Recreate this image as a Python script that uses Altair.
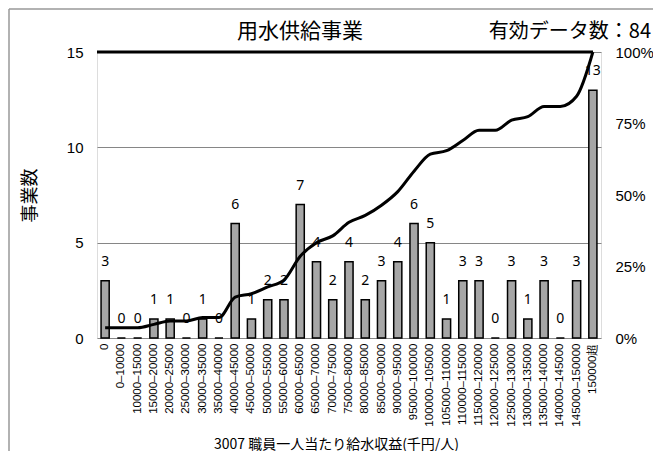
import altair as alt
import pandas as pd

categories = ["0", "0–10000", "10000–15000", "15000–20000", "20000–25000", "25000–30000",
              "30000–35000", "35000–40000", "40000–45000", "45000–50000", "50000–55000",
              "55000–60000", "60000–65000", "65000–70000", "70000–75000", "75000–80000",
              "80000–85000", "85000–90000", "90000–95000", "95000–100000", "100000–105000",
              "105000–110000", "110000–115000", "115000–120000", "120000–125000",
              "125000–130000", "130000–135000", "135000–140000", "140000–145000",
              "145000–150000", "150000超"]
counts = [3, 0, 0, 1, 1, 0, 1, 0, 6, 1, 2, 2, 7, 4, 2, 4, 2, 3, 4, 6, 5, 1, 3, 3, 0, 3, 1, 3, 0, 3, 13]
total = 84
title_main = "用水供給事業"
title_sub = "有効データ数：84"
x_title = "3007 職員一人当たり給水収益(千円/人)"
y_title = "事業数"

df = pd.DataFrame({"cat": categories, "count": counts})
df["cum"] = df["count"].cumsum() / total

W, H = 504, 286
JP = "Noto Sans CJK JP"
LAT = "Liberation Sans"

xenc = alt.X("cat:N", sort=categories, title=x_title,
             scale=alt.Scale(paddingInner=0.5, paddingOuter=0.25),
             axis=alt.Axis(labelAngle=-90, labelFont=LAT, labelFontSize=11.5, labelColor="black",
                           labelPadding=5, ticks=False, domain=False,
                           titleFont=JP, titleFontSize=14, titleFontWeight="normal", titleColor="black",
                           titleX=239, titleY=106, titleAlign="center", titleBaseline="middle"))

yaxis = alt.Axis(values=[0, 5, 10, 15], grid=True, gridColor="#868686", gridWidth=1,
                 ticks=False, domain=False, labelFont=LAT, labelFontSize=15, labelColor="black",
                 labelPadding=14, title=y_title, titleFont=JP, titleFontSize=18,
                 titleFontWeight="normal", titleColor="black", titleX=-67, titleY=143,
                 titleAlign="center", titleBaseline="middle", titleAngle=-90)
yenc = alt.Y("count:Q", scale=alt.Scale(domain=[0, 15], nice=False), axis=yaxis)

bars = alt.Chart(df).mark_bar(fill="#a6a6a6", stroke="black", strokeWidth=1.5).encode(
    x=xenc, y=yenc)
labels = alt.Chart(df).mark_text(baseline="bottom", dy=-12, font="Noto Sans", fontSize=14,
                                 color="black").encode(
    x=alt.X("cat:N", sort=categories, bandPosition=0.5), y=yenc, text="count:Q")
left = alt.layer(bars, labels)

line = alt.Chart(df).mark_line(color="black", strokeWidth=3, interpolate="monotone").encode(
    x=alt.X("cat:N", sort=categories, bandPosition=0.5),
    y=alt.Y("cum:Q", scale=alt.Scale(domain=[0, 1], nice=False),
            axis=alt.Axis(orient="right", values=[0, 0.25, 0.5, 0.75, 1], format="%",
                          grid=False, ticks=False, domain=False, labelFont=LAT,
                          labelFontSize=15, labelColor="black", labelPadding=14, title=None)))

one = pd.DataFrame({"k": [0]})
top_rule = alt.Chart(one).mark_rule(color="black", strokeWidth=3).encode(
    x=alt.value(0), x2=alt.value(W - 8), y=alt.value(0))
frame_left = alt.Chart(one).mark_rule(color="#999999", strokeWidth=1.5).encode(
    x=alt.value(-88), y=alt.value(-43), y2=alt.value(H + 130))
frame_top = alt.Chart(one).mark_rule(color="#999999", strokeWidth=1.5).encode(
    x=alt.value(-88), x2=alt.value(W + 60), y=alt.value(-43))
t1 = alt.Chart(one).mark_text(font=JP, fontSize=21, color="black", baseline="middle").encode(
    x=alt.value(203), y=alt.value(-20), text=alt.value(title_main))
t2 = alt.Chart(one).mark_text(font=JP, fontSize=20, color="black", baseline="middle",
                              align="right").encode(
    x=alt.value(554), y=alt.value(-20), text=alt.value(title_sub))

chart = alt.layer(left, line, top_rule, frame_left, frame_top, t1, t2).resolve_scale(
    y="independent").properties(
    width=W, height=H,
    autosize=alt.AutoSizeParams(type="none"),
    padding={"left": 89, "top": 44, "right": 52, "bottom": 113},
).configure_view(stroke="#868686", strokeWidth=1.5).configure(background="white")

chart.save("out.html", embed_options={"renderer": "svg", "actions": False})
